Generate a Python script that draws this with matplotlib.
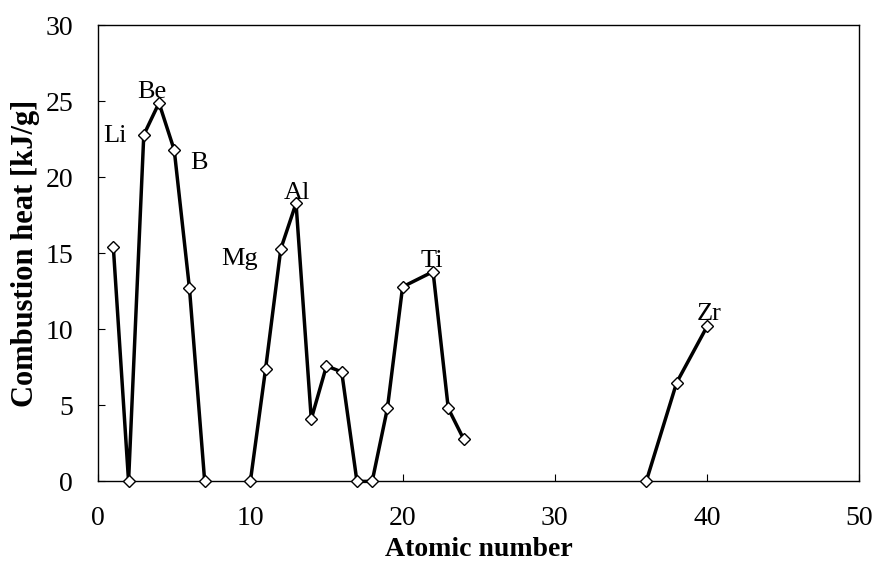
import matplotlib.pyplot as plt

plt.rcParams['font.family'] = 'Liberation Serif'

# atomic number / combustion heat, one list per connected run
z_light = [1, 2, 3, 4, 5, 6, 7]
heat_light = [15.4, 0, 22.8, 24.9, 21.8, 12.7, 0]

z_mid = [10, 11, 12, 13, 14, 15, 16, 17, 18, 19, 20, 22, 23, 24]
heat_mid = [0, 7.4, 15.3, 18.3, 4.1, 7.6, 7.2, 0, 0, 4.8, 12.8, 13.8, 4.8, 2.8]

z_heavy = [36, 38, 40]
heat_heavy = [0, 6.5, 10.2]

elements = ['Li', 'Be', 'B', 'Mg', 'Al', 'Ti', 'Zr']
label_x = [1.1, 3.55, 6.6, 9.3, 13.05, 21.9, 40.1]
label_y = [22.7, 25.6, 20.95, 14.6, 19.0, 14.5, 11.0]

fig = plt.figure(figsize=(8.76, 5.65), dpi=100)
ax = fig.add_axes([0.112, 0.148, 0.869, 0.807])

for xs, ys in [(z_light, heat_light), (z_mid, heat_mid), (z_heavy, heat_heavy)]:
    ax.plot(xs, ys, color='black', lw=2.5, marker='D', ms=6.3,
            mfc='white', mec='black', mew=1.0, clip_on=False, zorder=3)

for name, lx, ly in zip(elements, label_x, label_y):
    ax.text(lx, ly, name, fontsize=19, ha='center', va='center')

ax.set_xlim(0, 50)
ax.set_ylim(0, 30)
ax.set_xticks(range(0, 51, 10))
ax.set_yticks(range(0, 31, 5))
ax.tick_params(direction='in', labelsize=20, length=5, pad=18)
for sp in ax.spines.values():
    sp.set_linewidth(1.0)

ax.set_xlabel('Atomic number', fontsize=20, fontweight='bold', labelpad=4)
ax.set_ylabel('Combustion heat [kJ/g]', fontsize=22, fontweight='bold', labelpad=4)

fig.savefig('out.png', dpi=100)
